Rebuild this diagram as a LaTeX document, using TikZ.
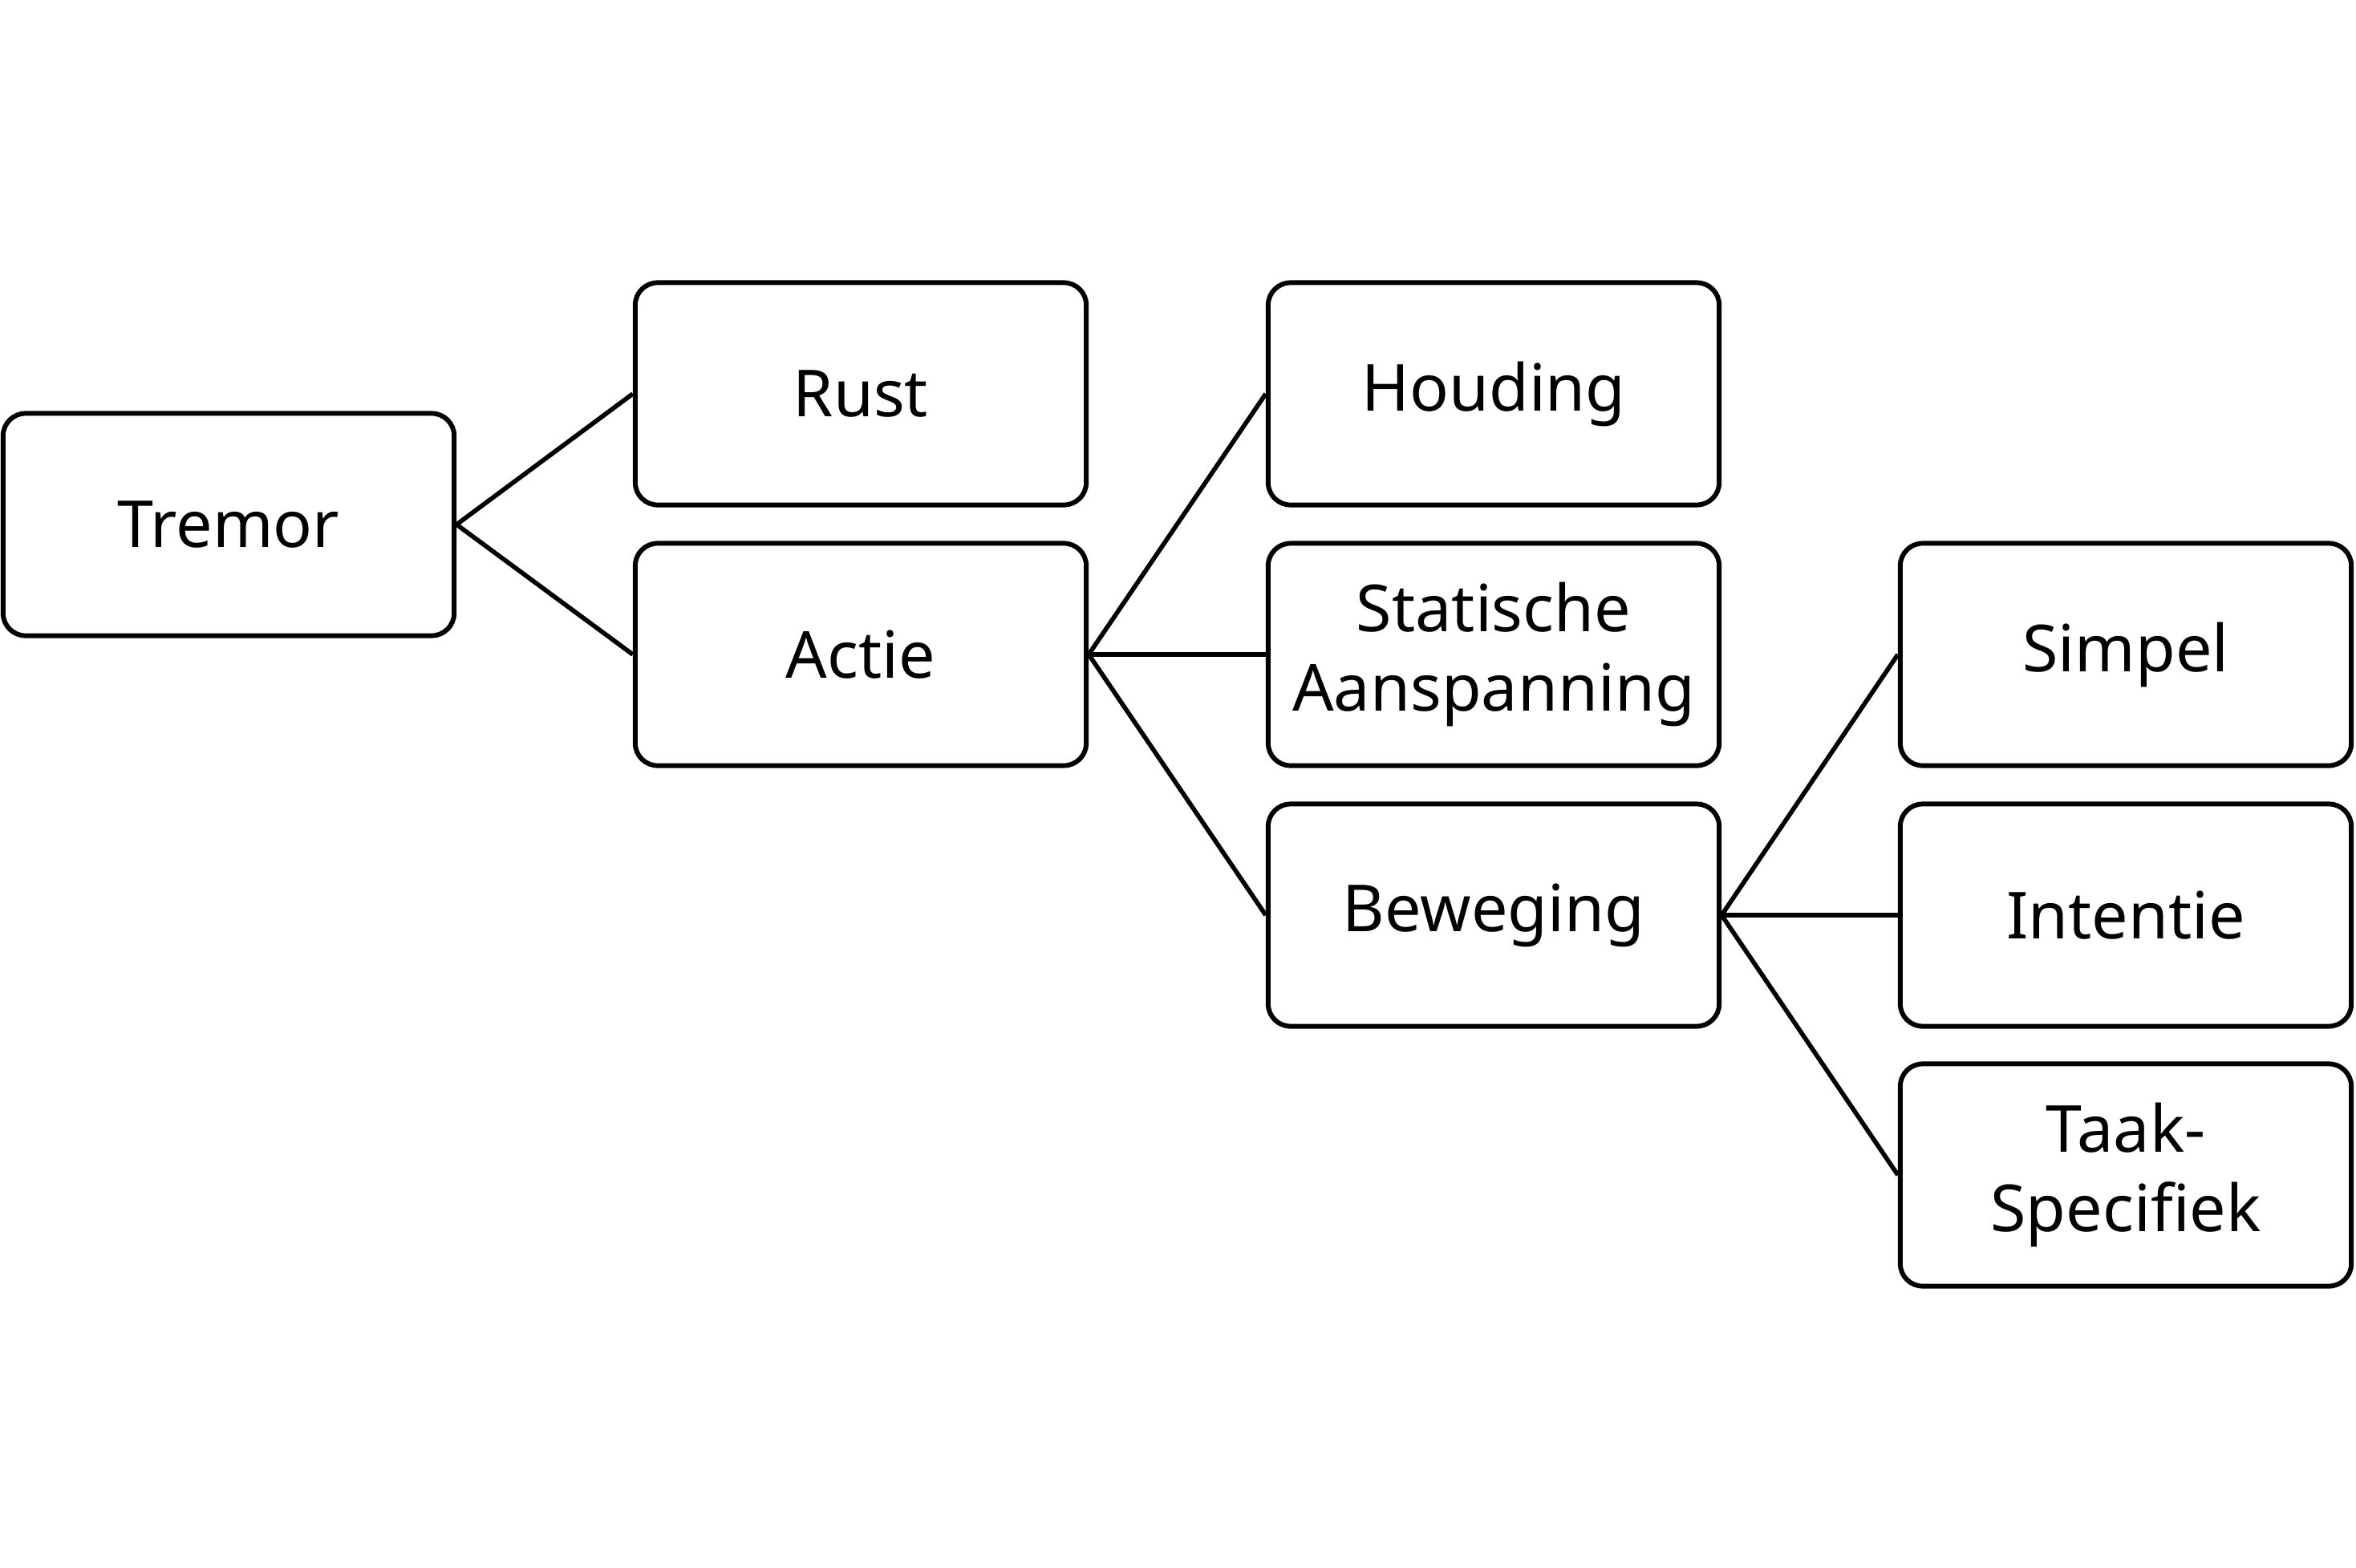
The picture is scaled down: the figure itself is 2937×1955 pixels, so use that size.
\documentclass[tikz,border=0pt]{standalone}
\usepackage{fontspec}
\setmainfont{Noto Sans}
\begin{document}
\begin{tikzpicture}[x=0.01cm,y=-0.01cm,
  box/.style={draw=black, line width=1.7pt, rounded corners=0.28cm, fill=white,
    minimum width=5.62cm, minimum height=2.77cm, align=center, inner sep=0pt,
    font=\fontsize{23}{28}\selectfont},
  link/.style={draw=black, line width=1.6pt}]
\useasboundingbox (0,0) rectangle (2937,1955);
\node[box] (tremor) at (285,654) {Tremor};
\node[box] (rust) at (1073,491) {Rust};
\node[box] (actie) at (1073,816) {Actie};
\node[box] (houding) at (1862,491) {Houding};
\node[box] (statisch) at (1862,816) {Statische\\Aanspanning};
\node[box] (beweging) at (1862,1141) {Beweging};
\node[box] (simpel) at (2650,816) {Simpel};
\node[box] (intentie) at (2650,1141) {Intentie};
\node[box] (taak) at (2650,1465) {Taak-\\Specifiek};
\draw[link] (tremor.east) -- (rust.west);
\draw[link] (tremor.east) -- (actie.west);
\draw[link] (actie.east) -- (houding.west);
\draw[link] (actie.east) -- (statisch.west);
\draw[link] (actie.east) -- (beweging.west);
\draw[link] (beweging.east) -- (simpel.west);
\draw[link] (beweging.east) -- (intentie.west);
\draw[link] (beweging.east) -- (taak.west);
\end{tikzpicture}
\end{document}
